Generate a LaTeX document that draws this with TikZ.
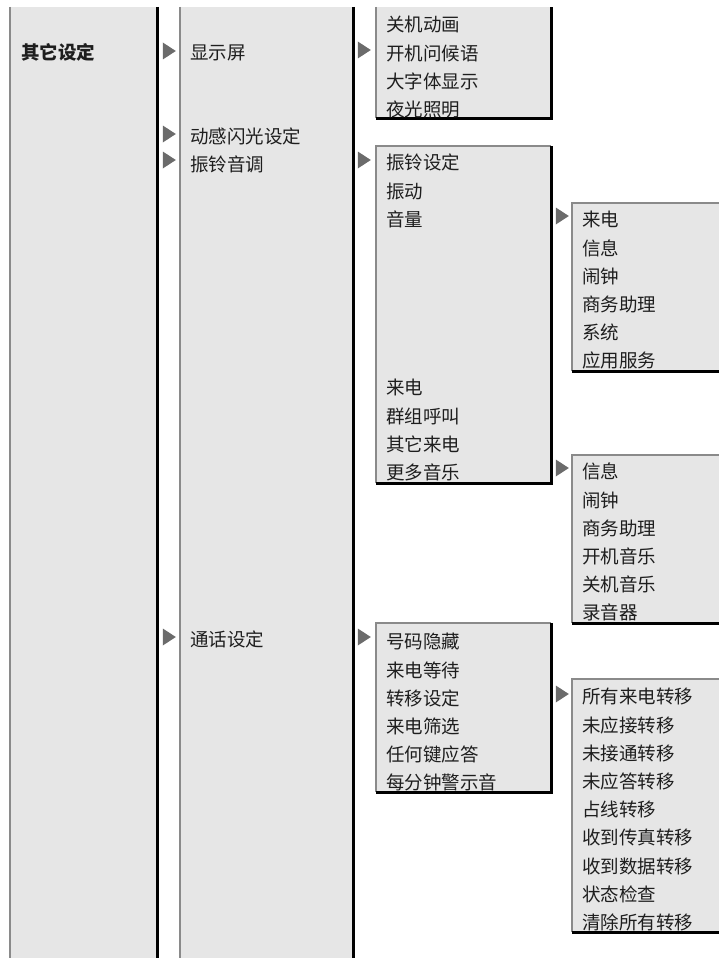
\documentclass[tikz,border=0pt]{standalone}
\usepackage{fontspec}
\setmainfont{Noto Sans CJK SC}
\usetikzlibrary{positioning}
\definecolor{panelgray}{HTML}{E6E6E6}
\definecolor{edgegray}{HTML}{8A8A8A}
\definecolor{markgray}{HTML}{6B6B6B}
\definecolor{ink}{HTML}{1E1E1E}

\begin{document}
\begin{tikzpicture}[
    x=1pt, y=-1pt,
    node distance=0pt,
    item/.style={inner sep=0pt, text width=128pt, align=left,
                 minimum height=27.8pt, text height=15.8pt, text depth=2.2pt,
                 font=\fontsize{18.5}{22}\selectfont, text=ink},
    pointer/.style={rectangle, inner sep=0pt, minimum width=13pt,
                    minimum height=17pt, anchor=east,
                    path picture={\fill[markgray] (path picture bounding box.north west)
                      -- (path picture bounding box.east)
                      -- (path picture bounding box.south west) -- cycle;}},
    panel/.style={fill=panelgray},
    lightedge/.style={draw=edgegray, line width=1.6pt},
    darkedge/.style={draw=black, line width=3pt}
  ]
    \fill[white] (0,0) rectangle (719,958);
    \clip (0,0) rectangle (719,958);

    % columns
    \fill[panel] (10,7) rectangle (157,962);
    \draw[lightedge] (10,7) -- (10,962);
    \draw[darkedge] (157,7) -- (157,962);
    \fill[panel] (180,7) rectangle (353,962);
    \draw[lightedge] (180,7) -- (180,962);
    \draw[darkedge] (353,7) -- (353,962);

    % submenu boxes
    \fill[panel] (376,7) rectangle (551,118);
    \draw[lightedge] (376,7) -- (376,118);
    \draw[darkedge] (376,118) -| (551,7);
    \fill[panel] (376,146) rectangle (551,483);
    \draw[lightedge] (376,483) |- (551,146);
    \draw[darkedge] (376,483) -| (551,146);
    \fill[panel] (376,623) rectangle (551,792);
    \draw[lightedge] (376,792) |- (551,623);
    \draw[darkedge] (376,792) -| (551,623);
    \fill[panel] (572,203) rectangle (725,371);
    \draw[lightedge] (572,371) |- (725,203);
    \draw[darkedge] (572,371) -- (725,371);
    \fill[panel] (572,455) rectangle (725,623);
    \draw[lightedge] (572,623) |- (725,455);
    \draw[darkedge] (572,623) -- (725,623);
    \fill[panel] (572,679) rectangle (725,932);
    \draw[lightedge] (572,932) |- (725,679);
    \draw[darkedge] (572,932) -- (725,932);

    % level 1 and 2
    \node[item, anchor=west, font=\fontsize{18.5}{22}\selectfont\bfseries] (c1) at (21,53) {其它设定};
    \node[item, anchor=west] (c2a) at (190,53) {显示屏};
    \node[item, below=55.6pt of c2a] (c2b) {动感闪光设定};
    \node[item, below=of c2b] (c2c) {振铃音调};
    \node[item, anchor=west] (c2d) at (190,640) {通话设定};

    % display
    \node[item, anchor=west] (d1) at (386,25) {关机动画};
    \node[item, below=of d1] (d2) {开机问候语};
    \node[item, below=of d2] (d3) {大字体显示};
    \node[item, below=of d3] (d4) {夜光照明};

    % ring tones
    \node[item, anchor=west] (r1) at (386,163) {振铃设定};
    \node[item, below=of r1] (r2) {振动};
    \node[item, below=of r2] (r3) {音量};
    \node[item, anchor=west] (r4) at (386,388) {来电};
    \node[item, below=of r4] (r5) {群组呼叫};
    \node[item, below=of r5] (r6) {其它来电};
    \node[item, below=of r6] (r7) {更多音乐};

    % volume
    \node[item, anchor=west] (v1) at (582,220) {来电};
    \node[item, below=of v1] (v2) {信息};
    \node[item, below=of v2] (v3) {闹钟};
    \node[item, below=of v3] (v4) {商务助理};
    \node[item, below=of v4] (v5) {系统};
    \node[item, below=of v5] (v6) {应用服务};

    % more music
    \node[item, anchor=west] (m1) at (582,472) {信息};
    \node[item, below=of m1] (m2) {闹钟};
    \node[item, below=of m2] (m3) {商务助理};
    \node[item, below=of m3] (m4) {开机音乐};
    \node[item, below=of m4] (m5) {关机音乐};
    \node[item, below=of m5] (m6) {录音器};

    % call settings
    \node[item, anchor=west] (k1) at (386,642) {号码隐藏};
    \node[item, below=of k1] (k2) {来电等待};
    \node[item, below=of k2] (k3) {转移设定};
    \node[item, below=of k3] (k4) {来电筛选};
    \node[item, below=of k4] (k5) {任何键应答};
    \node[item, below=of k5] (k6) {每分钟警示音};

    % divert
    \node[item, anchor=west] (f1) at (582,697) {所有来电转移};
    \node[item, below=of f1] (f2) {未应接转移};
    \node[item, below=of f2] (f3) {未接通转移};
    \node[item, below=of f3] (f4) {未应答转移};
    \node[item, below=of f4] (f5) {占线转移};
    \node[item, below=of f5] (f6) {收到传真转移};
    \node[item, below=of f6] (f7) {收到数据转移};
    \node[item, below=of f7] (f8) {状态检查};
    \node[item, below=of f8] (f9) {清除所有转移};

    % pointers
    \node[pointer] (p1) at (176,51) {};
    \node[pointer] (p2) at (176,134) {};
    \node[pointer] (p3) at (176,160) {};
    \node[pointer] (p4) at (176,637) {};
    \node[pointer] (p5) at (371,50) {};
    \node[pointer] (p6) at (371,160) {};
    \node[pointer] (p7) at (371,637) {};
    \node[pointer] (p8) at (569,216) {};
    \node[pointer] (p9) at (569,468) {};
    \node[pointer] (p10) at (569,694) {};
  \end{tikzpicture}
\end{document}
